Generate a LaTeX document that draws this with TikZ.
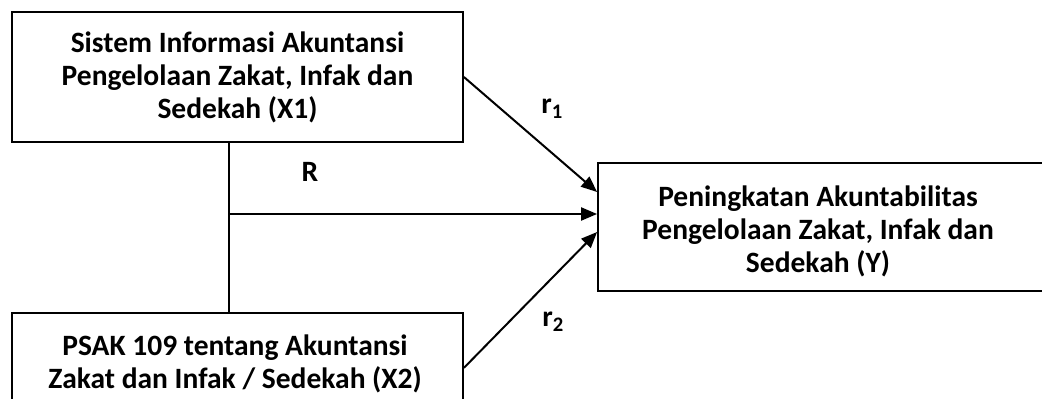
\documentclass[tikz,border=0pt]{standalone}
\usepackage{fontspec}
\setmainfont{Carlito}
\usetikzlibrary{arrows.meta,calc}
\begin{document}
\begin{tikzpicture}[x=1pt,y=-1pt,
  txt/.style={align=center,inner sep=0pt,font=\fontsize{29.5}{33}\selectfont\bfseries},
  box/.style={draw,line width=1.8pt,inner sep=0pt},
  link/.style={line width=2pt},
  arr/.style={line width=2pt,-{Triangle[length=16pt,width=13pt]}},
  lbl/.style={font=\fontsize{29.5}{33}\selectfont\bfseries,inner sep=0pt}]
\useasboundingbox (0,0) rectangle (1042,399);
\node[box,txt,minimum width=451pt,minimum height=130pt] (X1) at (237.5,77)
  {Sistem Informasi Akuntansi\\Pengelolaan Zakat, Infak dan\\Sedekah (X1)};
\node[box,minimum width=451pt,minimum height=130pt,anchor=north] (X2) at (237.5,312) {};
\node[txt] (X2t) at (235,364)
  {PSAK 109 tentang Akuntansi\\Zakat dan Infak / Sedekah (X2)};
\node[box,minimum width=445pt,minimum height=128pt] (Y) at (820.5,227) {};
\node[txt] (Yt) at (818,231)
  {Peningkatan Akuntabilitas\\Pengelolaan Zakat, Infak dan\\Sedekah (Y)};
\coordinate (V) at (229,214);
\draw[link] (X1.south -| V) -- (X2.north -| V);
\draw[arr] (V) -- (Y.west |- V);
\draw[arr] (X1.east) -- ($(Y.west)+(0,-35)$);
\draw[arr] ($(X2.east)+(0,-10)$) -- ($(Y.west)+(0,5)$);
\node[lbl] (R) at (310,172) {R};
\node[lbl] (r1) at (552,109) {r\textsubscript{1}};
\node[lbl] (r2) at (553,322) {r\textsubscript{2}};
\end{tikzpicture}
\end{document}
